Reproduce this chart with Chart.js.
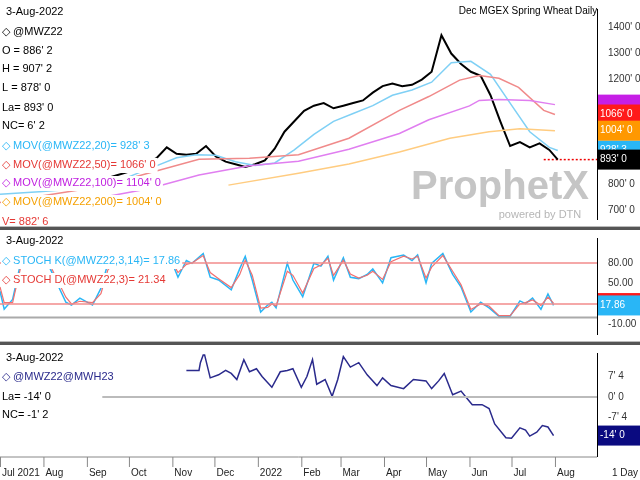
<!DOCTYPE html>
<html><head><meta charset="utf-8">
<script src="https://cdn.jsdelivr.net/npm/chart.js@4/dist/chart.umd.min.js"></script>
<style>
body{margin:0;width:640px;height:480px;background:#fff;overflow:hidden;font-family:"Liberation Sans",Arial,sans-serif}
.p{position:absolute;left:0;width:640px}
.sep{position:absolute;left:0;width:640px;height:3px;background:#555;border-top:1px solid #bbb}
</style></head><body>
<div class="p" style="top:0;height:228px"><canvas id="c1" width="640" height="228"></canvas></div>
<div class="p" style="top:229px;height:114px"><canvas id="c2" width="640" height="114"></canvas></div>
<div class="p" style="top:344px;height:136px"><canvas id="c3" width="640" height="136"></canvas></div>
<div class="sep" style="top:226px"></div>
<div class="sep" style="top:341px"></div>
<script>
// ---- DATA (x = days since 1 Jul 2021) ----
const priceDays=[56,63,70,77,84,91,98,105,112,119,126,133,140,147,154,161,168,175,182,189,196,203,210,217,224,231,238,245,252,259,266,273,280,287,294,301,308,315,322,329,336,343,350,357,364,371,378,385,392,398];
const priceVals=[780,790,795,823,834,845,862,880,900,940,915,912,915,945,905,885,875,865,875,890,935,1000,1040,1080,1100,1110,1090,1100,1110,1120,1150,1175,1185,1175,1180,1200,1230,1370,1300,1260,1230,1215,1140,1040,945,960,940,955,930,893];
const ma20Days=[0,14,28,42,56,70,84,98,112,126,140,154,168,182,196,210,224,238,252,266,280,294,308,322,336,350,364,378,392,398];
const ma20Vals=[760,765,770,775,780,790,810,840,870,900,912,910,885,870,880,930,990,1040,1070,1100,1140,1160,1190,1265,1270,1220,1110,1000,940,928];
const ma50Days=[0,70,142,178,213,249,285,306,328,342,356,370,388,396];
const ma50Vals=[728,788,894,898,912,975,1082,1135,1198,1216,1205,1170,1082,1066];
const ma100Days=[60,106,142,178,213,249,285,306,335,342,356,378,396];
const ma100Vals=[735,781,834,869,887,933,993,1046,1099,1120,1124,1120,1104];
const ma200Days=[163,213,249,285,321,349,371,396];
const ma200Vals=[795,841,876,922,975,1000,1011,1004];
const stochDays=[0,3,9,16,28,34,47,51,57,66,72,77,83,92,101,105,113,121,127,133,137,145,150,156,165,171,175,180,186,191,194,197,205,209,216,224,229,234,238,245,250,256,262,266,273,279,288,294,298,304,308,316,323,329,336,343,349,356,364,371,375,380,386,391,395];
const stochK=[38.8,12.3,26.6,91.8,91.8,79.6,22.5,18.4,28.6,18.4,42.9,79.6,83.7,89.8,81.6,89.8,89.8,89.8,59.2,83.7,79.6,93.9,59.2,55.1,40.8,71.4,89.8,55.1,8.2,18.4,22.5,14.3,79.6,55.1,30.6,79.6,75.5,89.8,55.1,87.8,59.2,57.2,63.3,71.4,51.0,87.8,91.8,83.7,91.8,51.0,79.6,93.9,63.3,44.9,8.2,22.5,14.3,2.1,2.1,24.5,20.5,28.6,12.3,34.7,17.86];
const stochD=[45,22,22,85,92,84,30,20,24,22,35,70,82,88,85,87,89,89,66,78,80,91,66,57,44,63,84,62,14,15,20,17,68,62,36,72,77,87,62,84,64,58,62,68,56,82,90,86,90,58,74,91,68,48,12,20,17,3,3,20,22,26,18,30,21.34];
const spreadDays=[133,142,143,145,146,150,156,161,165,169,174,178,183,187,194,200,205,209,215,219,223,226,232,237,241,245,250,256,262,269,273,279,288,295,304,308,313,317,323,329,333,337,344,349,353,361,365,371,375,378,383,387,391,395];
const spreadVals=[9.6,9.6,12.4,15.2,15.2,6.9,8.0,9.6,8.5,6.3,13.5,9.1,10.2,7.4,3.5,9.1,9.6,10.2,3.5,7.4,13.5,4.6,6.3,0.2,6.3,14.6,10.8,12.4,8.0,4.1,6.9,4.1,3.0,6.3,5.8,3.0,5.8,8.5,0.8,2.1,-0.4,-2.8,-2.8,-4.2,-9.8,-14.8,-15.0,-11.2,-12.0,-14.2,-12.8,-10.4,-10.9,-14.0];
const monthDays=[0,31,62,92,123,153,184,215,243,274,304,335,365,396];
const monthLabels=["Jul 2021","Aug","Sep","Oct","Nov","Dec","2022","Feb","Mar","Apr","May","Jun","Jul","Aug"];
const priceTicks=[700,800,900,1000,1100,1200,1300,1400];
const stochTicks=[-10,50,80];
const spreadTicks=[-7.5,0,7.5];

const pts=(d,v)=>d.map((x,i)=>({x,y:v[i]}));
const fmt=v=>{const s=v<0?'-':'';const a=Math.abs(v);let w=Math.floor(a+1e-9);let e=Math.round((a-w)*8);if(e===8){w++;e=0;}return s+w+"' "+e;};
const F='"Liberation Sans", Arial, sans-serif';
Chart.defaults.animation=false;
Chart.defaults.font.family=F;
const xScale={type:'linear',min:0,max:426,display:false};
const yBase=(min,max,ticks,cb)=>({position:'right',min,max,grid:{display:false},border:{color:'#000'},
  afterFit:s=>{s.width=43},afterBuildTicks:s=>{s.ticks=ticks.map(v=>({value:v}))},
  ticks:{color:'#333',font:{size:10},callback:cb,padding:3},});
function textPlugin(id,items){return{id,afterDatasetsDraw(c){const g=c.ctx;g.save();g.textBaseline='middle';
  items.forEach(t=>{g.font=(t.bold?'bold ':'')+(t.size||11)+'px '+F;g.textAlign=t.a||'left';
    if(t.bg!==false){const w=g.measureText(t.t).width;g.fillStyle='#fff';g.fillRect(t.x-1,t.y-7,w+3,15);}
    g.fillStyle=t.c||'#000';g.fillText(t.t,t.x,t.y);});g.restore();}}}
function boxPlugin(id,boxes){return{id,afterDraw(c){const g=c.ctx,y=c.scales.y;g.save();g.textBaseline='middle';g.font='10px '+F;
  boxes.forEach(b=>{const py=y.getPixelForValue(b.v);g.fillStyle=b.bg;g.fillRect(598,py-10+(b.dy||0),42,b.h||20);
    if(b.t){g.fillStyle=b.fg;g.textAlign='left';g.fillText(b.t,600,py+(b.dy||0));}});g.restore();}}}
const line=(data,color,w)=>({data,borderColor:color,borderWidth:w,pointRadius:0,fill:false,tension:0});
const base={responsive:false,maintainAspectRatio:false,devicePixelRatio:1,layout:{padding:0},plugins:{legend:{display:false},tooltip:{enabled:false}}};

new Chart(c1,{type:'line',data:{datasets:[
  line(pts(ma200Days,ma200Vals),'#ffcc80',1.5),
  line(pts(ma100Days,ma100Vals),'#e07ef0',1.5),
  line(pts(ma50Days,ma50Vals),'#f08a8a',1.5),
  line(pts(ma20Days,ma20Vals),'#7fd0f5',1.5),
  line(pts(priceDays,priceVals),'#000',2),
  {data:[{x:388,y:893},{x:426,y:893}],borderColor:'#e00',borderWidth:1.5,borderDash:[2,2],pointRadius:0}
]},options:{...base,scales:{x:xScale,y:yBase(665,1471,priceTicks,v=>fmt(v))}},
 plugins:[
  textPlugin('t1',[{t:'Dec MGEX Spring Wheat Daily',x:528,y:11,size:10,a:'center',bg:false},
   {t:'3-Aug-2022',x:6,y:12},{t:'◇ @MWZ22',x:2,y:32},{t:"O = 886' 2",x:2,y:51},{t:"H = 907' 2",x:2,y:69},
   {t:"L = 878' 0",x:2,y:88},{t:"La= 893' 0",x:2,y:108},{t:"NC= 6' 2",x:2,y:126},
   {t:"◇ MOV(@MWZ22,20)= 928' 3",x:2,y:146,c:'#29b6f6'},{t:"◇ MOV(@MWZ22,50)= 1066' 0",x:2,y:165,c:'#e53935'},
   {t:"◇ MOV(@MWZ22,100)= 1104' 0",x:2,y:183,c:'#c020e0'},{t:"◇ MOV(@MWZ22,200)= 1004' 0",x:2,y:202,c:'#f5a000'},
   {t:"V= 882' 6",x:2,y:222,c:'#e53935'},
   {t:'ProphetX',x:500,y:188,size:40,bold:true,c:'rgba(140,140,140,0.5)',a:'center',bg:false},
   {t:'powered by DTN',x:540,y:215,size:11,c:'rgba(150,150,150,0.7)',a:'center',bg:false}]),
  boxPlugin('b1',[{v:1104,bg:'#c61fe6',fg:'#c61fe6',t:"1104' 0"},{v:928,bg:'#29b6f6',fg:'#fff',t:"928' 3"},
   {v:1066,bg:'#ff1a1a',fg:'#fff',t:"1066' 0"},{v:1004,bg:'#ff9800',fg:'#fff',t:"1004' 0"},{v:893,bg:'#000',fg:'#fff',t:"893' 0"}])]});

new Chart(c2,{type:'line',data:{datasets:[
  {data:[{x:0,y:80},{x:426,y:80}],borderColor:'#f28b8b',borderWidth:1.5,pointRadius:0},
  {data:[{x:0,y:20},{x:426,y:20}],borderColor:'#f28b8b',borderWidth:1.5,pointRadius:0},
  {data:[{x:0,y:0},{x:426,y:0}],borderColor:'#aaa',borderWidth:2,pointRadius:0},
  line(pts(stochDays,stochD),'#f07070',1.2),
  line(pts(stochDays,stochK),'#29b6f6',1.5)
]},options:{...base,scales:{x:xScale,y:yBase(-24,116.7,stochTicks,v=>v.toFixed(2))}},
 plugins:[textPlugin('t2',[{t:'3-Aug-2022',x:6,y:12},{t:'◇ STOCH K(@MWZ22,3,14)= 17.86',x:2,y:32,c:'#29b6f6'},
   {t:'◇ STOCH D(@MWZ22,3)= 21.34',x:2,y:51,c:'#e53935'}]),
  boxPlugin('b2',[{v:21.34,bg:'#ff1a1a',h:3,dy:0},{v:17.86,bg:'#29b6f6',fg:'#fff',t:'17.86'}])]});

const c3p={id:'xl',afterDraw(c){const g=c.ctx,x=c.scales.x;g.save();g.strokeStyle='#888';g.fillStyle='#222';g.font='10px '+F;g.textBaseline='middle';
  g.beginPath();g.moveTo(0,113);g.lineTo(597,113);g.stroke();
  monthDays.forEach((d,i)=>{const px=x.getPixelForValue(d);g.beginPath();g.moveTo(px+0.5,113);g.lineTo(px+0.5,123);g.stroke();g.fillText(monthLabels[i],px+2,129);});
  g.fillText('1 Day',612,129);g.restore();}};
new Chart(c3,{type:'line',data:{datasets:[
  {data:[{x:73,y:0},{x:426,y:0}],borderColor:'#bbb',borderWidth:2,pointRadius:0},
  line(pts(spreadDays,spreadVals),'#2a2a8c',1.5)
]},options:{...base,layout:{padding:{bottom:24}},scales:{x:xScale,y:yBase(-21.4,15.9,spreadTicks,v=>fmt(v))}},
 plugins:[textPlugin('t3',[{t:'3-Aug-2022',x:6,y:14},{t:'◇ @MWZ22@MWH23',x:2,y:33,c:'#2a2a8c'},
   {t:"La= -14' 0",x:2,y:53},{t:"NC= -1' 2",x:2,y:71}]),
  boxPlugin('b3',[{v:-14,bg:'#0a0a80',fg:'#fff',t:"-14' 0"}]),c3p]});
</script></body></html>
